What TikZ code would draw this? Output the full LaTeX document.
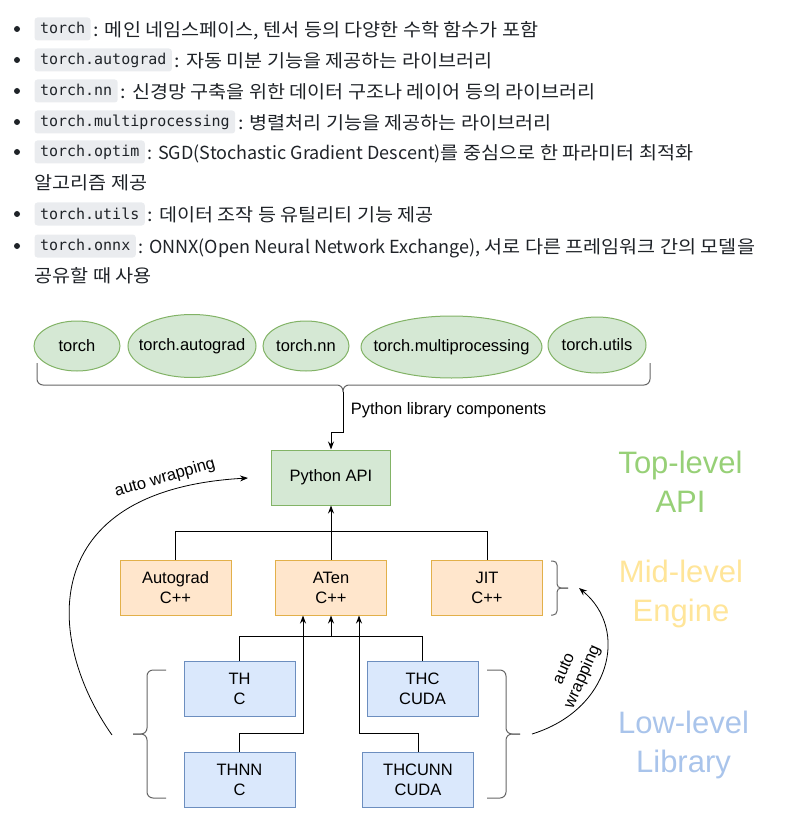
\documentclass[tikz,border=0pt]{standalone}
\usepackage{fontspec}
\setmainfont{Liberation Sans}
\newfontfamily\krfont{Noto Sans CJK KR}[FakeStretch=1.09]
\newfontfamily\krlatin{Noto Sans CJK KR}
\newfontfamily\codefont{DejaVu Sans Mono}
\usetikzlibrary{arrows.meta,positioning,shapes.geometric}
\definecolor{libfill}{HTML}{D5E8D4}
\definecolor{libline}{HTML}{82B366}
\definecolor{midfill}{HTML}{FFE6CC}
\definecolor{midline}{HTML}{E2B04A}
\definecolor{lowfill}{HTML}{DAE8FC}
\definecolor{lowline}{HTML}{6C8EBF}
\definecolor{toptext}{HTML}{97D077}
\definecolor{midtext}{HTML}{FFE599}
\definecolor{lowtext}{HTML}{A9C4EB}
\definecolor{codegray}{HTML}{EAECEF}
\definecolor{ink}{HTML}{1F2328}
\newcommand{\modname}[1]{\makebox[0pt]{#1}}
\newcommand{\lat}[1]{{\krlatin #1}}
\tikzset{code/.style={fill=codegray, rounded corners=3pt, inner xsep=5.5pt, inner ysep=0pt,
            minimum height=23pt, text height=11pt, text depth=1pt, text=ink,
            font=\codefont\fontsize{15}{18}\selectfont},
         desc/.style={inner sep=0pt, text height=15pt, text depth=0pt, text=ink,
            font=\krfont\fontsize{18}{22}\selectfont},
         dot/.style={circle, fill=ink, inner sep=0pt, minimum size=6pt},
         lib/.style={ellipse, draw=libline, fill=libfill, inner sep=0pt,
            font=\fontsize{16.5}{20}\selectfont},
         layer/.style={rectangle, draw=#1line, fill=#1fill, align=center, inner sep=0pt,
            minimum width=111pt, minimum height=55pt, font=\fontsize{16.5}{20}\selectfont},
         lvl/.style={align=center, text=#1text, font=\fontsize{31}{39}\selectfont},
         arr/.style={-{Stealth[length=8pt,width=6pt]}},
         brc/.style={draw=black!60, rounded corners=6pt},
         wrap/.style={font=\fontsize{16.5}{20}\selectfont, align=center}}

\begin{document}
\begin{tikzpicture}[x=1pt, y=-1pt, line width=1pt]
\useasboundingbox (0,0) rectangle (795,834);
 % module list
 \foreach \y [count=\i] in {29,60,91,122,152,214,246}
   \node[dot] (dot\i) at (17,\y) {};
 \node[code, anchor=west] (c1) at (34,29) {torch};
 \node[desc, right=2pt of c1] (d1) {: 메인 네임스페이스, 텐서 등의 다양한 수학 함수가 포함};
 \node[code, anchor=west] (c2) at (34,60) {torch.autograd};
 \node[desc, right=2pt of c2] (d2) {: 자동 미분 기능을 제공하는 라이브러리};
 \node[code, anchor=west] (c3) at (34,91) {torch.nn};
 \node[desc, right=2pt of c3] (d3) {: 신경망 구축을 위한 데이터 구조나 레이어 등의 라이브러리};
 \node[code, anchor=west] (c4) at (34,122) {torch.multiprocessing};
 \node[desc, right=2pt of c4] (d4) {: 병렬처리 기능을 제공하는 라이브러리};
 \node[code, anchor=west] (c5) at (34,152) {torch.optim};
 \node[desc, right=2pt of c5] (d5) {\lat{: SGD(Stochastic Gradient Descent)}를 중심으로 한 파라미터 최적화};
 \node[desc, anchor=west] (e5) at (34,182) {알고리즘 제공};
 \node[code, anchor=west] (c6) at (34,214) {torch.utils};
 \node[desc, right=2pt of c6] (d6) {: 데이터 조작 등 유틸리티 기능 제공};
 \node[code, anchor=west] (c7) at (34,246) {torch.onnx};
 \node[desc, right=2pt of c7] (d7) {\lat{: ONNX(Open Neural Network Exchange), }서로 다른 프레임워크 간의 모델을};
 \node[desc, anchor=west] (e7) at (34,275) {공유할 때 사용};

 % python modules
 \node[lib, minimum width=86pt, minimum height=50pt] (torch) at (77,346) {\modname{torch}};
 \node[lib, minimum width=128pt, minimum height=63pt] (autograd) at (192,346) {\modname{torch.autograd}};
 \node[lib, minimum width=86pt, minimum height=50pt] (nn) at (306,346) {\modname{torch.nn}};
 \node[lib, minimum width=181pt, minimum height=62pt] (multi) at (451.5,347) {\modname{torch.multiprocessing}};
 \node[lib, minimum width=98pt, minimum height=56pt] (utils) at (597,345) {\modname{torch.utils}};
 \coordinate (ptip) at (343,392);
 \draw[brc] (37,363) -- (37,385) -- (343,385) -- (ptip);
 \draw[brc] (650,363) -- (650,385) -- (343,385) -- (ptip);

 % layers
 \node[layer=lib, minimum width=119pt] (pyapi) at (331,477.5) {Python API};
 \node[layer=mid] (autogradc) at (175.5,587.5) {Autograd\\C++};
 \node[layer=mid] (aten) at (331,587.5) {ATen\\C++};
 \node[layer=mid] (jit) at (487,587.5) {JIT\\C++};
 \node[layer=low] (th) at (239.5,688.5) {TH\\C};
 \node[layer=low] (thc) at (422.5,688.5) {THC\\CUDA};
 \node[layer=low] (thnn) at (239.5,779.5) {THNN\\C};
 \node[layer=low] (thcunn) at (418,779.5) {THCUNN\\CUDA};

 \draw[arr] (ptip) -- ++(0,40) -| (pyapi.north);
 \node[wrap, anchor=west] (plc) at (347,410) {Python library components};
 \draw (autogradc.north) -- ++(0,-28) -| (jit.north);
 \draw[arr] (aten.north) -- (pyapi.south);
 \coordinate (lowjoin) at (331,637);
 \draw (th.north) -- ++(0,-24) -| (thc.north);
 \draw[arr] (lowjoin) -- (aten.south);
 \draw[arr] (thnn.north) -- ++(0,-18) -| ([xshift=-28pt]aten.south);
 \draw[arr] (thcunn.north) -- ++(0,-18) -| ([xshift=28pt]aten.south);

 % braces
 \draw[brc] (166,670) -- (147,670) -- (147,734) -- (133,734);
 \draw[brc] (166,798) -- (147,798) -- (147,734) -- (133,734);
 \draw[brc] (487,670) -- (506,670) -- (506,734) -- (520,734);
 \draw[brc] (487,798) -- (506,798) -- (506,734) -- (520,734);
 \draw[brc, rounded corners=4pt] (551,561) -- (557,561) -- (557,588) -- (568,588);
 \draw[brc, rounded corners=4pt] (551,615) -- (557,615) -- (557,588) -- (568,588);

 % auto wrapping
 \coordinate (lwstart) at (112,735);
 \coordinate (lwend) at (248,478);
 \coordinate (rwstart) at (532,734);
 \coordinate (rwend) at (579,588);
 \draw[arr, line width=0.8pt] (lwstart) .. controls (45,640) and (35,490) .. (lwend);
 \draw[arr, line width=0.8pt] (rwstart) .. controls (610,710) and (630,630) .. (rwend);
 \node[wrap, rotate=16] (lwlbl) at (165,478) {auto wrapping};
 \node[wrap, rotate=66] (rwlbl) at (574,673) {auto\\wrapping};

 % level names
 \node[lvl=top] (toplvl) at (680.5,482) {Top-level\\API};
 \node[lvl=mid] (midlvl) at (681,594) {Mid-level\\Engine};
 \node[lvl=low] (lowlvl) at (683.5,745) {Low-level\\Library};
\end{tikzpicture}
\end{document}
